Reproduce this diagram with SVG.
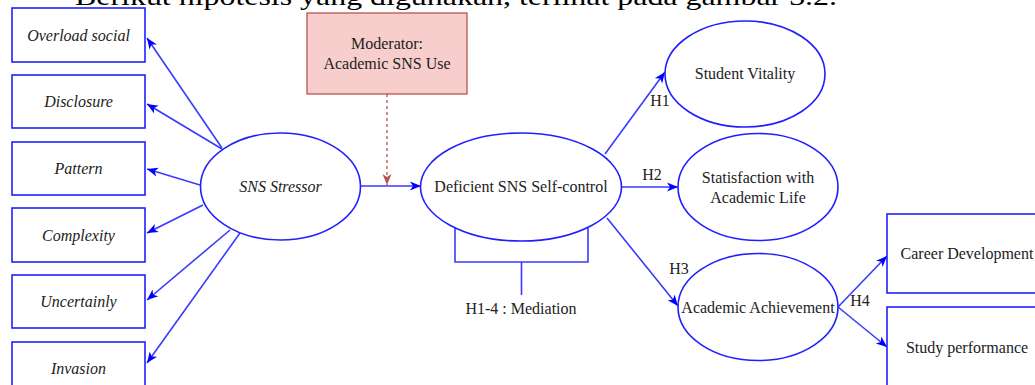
<svg xmlns="http://www.w3.org/2000/svg" width="1035" height="385" viewBox="0 0 1035 385" font-family="'Liberation Serif', 'Times New Roman', serif">
<defs>
<style>
.box{fill:#fff;stroke:#2020ff;stroke-width:1.6}
.ell{fill:#fff;stroke:#2020ff;stroke-width:1.6}
text{font-family:'Liberation Serif','Times New Roman',serif}
.t{font-size:16px;fill:#222;text-anchor:middle;dominant-baseline:central}
.it{font-style:italic}
.edge{fill:none;stroke:#3a3aff;stroke-width:1.6}
.mod{fill:#f8cecc;stroke:#b85450;stroke-width:1.3}
.dash{fill:none;stroke:#b85450;stroke-width:1.3;stroke-dasharray:3 3}
</style>
<marker id="ab" markerUnits="userSpaceOnUse" markerWidth="12" markerHeight="12" viewBox="0 0 12 12" refX="11" refY="6" orient="auto">
<path d="M0,1.5 L11,6 L0,10.5 L3,6 z" fill="#0000ff"/>
</marker>
<marker id="ar" markerUnits="userSpaceOnUse" markerWidth="12" markerHeight="12" viewBox="0 0 12 12" refX="11" refY="6" orient="auto">
<path d="M0,1.5 L11,6 L0,10.5 L3,6 z" fill="#b85450"/>
</marker>
</defs>
<rect width="1035" height="385" fill="#fff"/>
<text x="75" y="5" font-size="26" fill="#000" textLength="762" lengthAdjust="spacingAndGlyphs">Berikut hipotesis yang digunakan, terlihat pada gambar 3.2.</text>

<g id="connectors">
<path class="edge" d="M222,148 L147,38" marker-end="url(#ab)"/>
<path class="edge" d="M222,149 L147,104" marker-end="url(#ab)"/>
<path class="edge" d="M200,185 L147,169" marker-end="url(#ab)"/>
<path class="edge" d="M203,205 L147,233" marker-end="url(#ab)"/>
<path class="edge" d="M230,230 L147,300" marker-end="url(#ab)"/>
<path class="edge" d="M240,233 L147,363" marker-end="url(#ab)"/>
<path class="edge" d="M361,186 L421,186" marker-end="url(#ab)"/>
<path class="dash" d="M387,94 L387,185" marker-end="url(#ar)"/>
<path class="edge" d="M605,154 L665,72" marker-end="url(#ab)"/>
<path class="edge" d="M622,187 L678,187" marker-end="url(#ab)"/>
<path class="edge" d="M607,218 L678,306" marker-end="url(#ab)"/>
<path class="edge" d="M838,307 L887,256" marker-end="url(#ab)"/>
<path class="edge" d="M838,307 L887,347" marker-end="url(#ab)"/>
<path class="edge" d="M455,228 L455,262 L588,262 L588,228 M521.5,262 L521.5,295"/>
<text class="t" x="521" y="308">H1-4 : Mediation</text>
<text class="t" x="660" y="100">H1</text>
<text class="t" x="652" y="174">H2</text>
<text class="t" x="679" y="268">H3</text>
<text class="t" x="860" y="300">H4</text>
</g>

<g id="n-overload"><rect class="box" x="12" y="8" width="133" height="54"/><text class="t it" x="78.5" y="35">Overload social</text></g>
<g id="n-disclosure"><rect class="box" x="12" y="75" width="133" height="53"/><text class="t it" x="78.5" y="101.5">Disclosure</text></g>
<g id="n-pattern"><rect class="box" x="12" y="142" width="133" height="53"/><text class="t it" x="78.5" y="168.5">Pattern</text></g>
<g id="n-complexity"><rect class="box" x="12" y="208" width="133" height="54"/><text class="t it" x="78.5" y="235">Complexity</text></g>
<g id="n-uncertainly"><rect class="box" x="12" y="275" width="133" height="53"/><text class="t it" x="78.5" y="301.5">Uncertainly</text></g>
<g id="n-invasion"><rect class="box" x="12" y="342" width="133" height="54"/><text class="t it" x="78.5" y="368">Invasion</text></g>

<g id="n-stressor"><ellipse class="ell" cx="280.5" cy="186.5" rx="80" ry="53.5"/><text class="t it" x="280.5" y="186.5">SNS Stressor</text></g>
<g id="n-moderator"><rect class="mod" x="307" y="13" width="160" height="81"/><text class="t" x="387" y="43">Moderator:</text><text class="t" x="387" y="63">Academic SNS Use</text></g>
<g id="n-deficient"><ellipse class="ell" cx="521" cy="187" rx="100.5" ry="54"/><text class="t" x="521" y="186">Deficient SNS Self-control</text></g>
<g id="n-vitality"><ellipse class="ell" cx="745" cy="74" rx="80" ry="53"/><text class="t" x="745" y="73">Student Vitality</text></g>
<g id="n-satisfaction"><ellipse class="ell" cx="758" cy="187" rx="80" ry="53.5"/><text class="t" x="758" y="177">Statisfaction with</text><text class="t" x="758" y="197">Academic Life</text></g>
<g id="n-achievement"><ellipse class="ell" cx="758" cy="307" rx="80" ry="53.5"/><text class="t" x="758" y="307">Academic Achievement</text></g>
<g id="n-career"><rect class="box" x="887" y="214" width="160" height="79"/><text class="t" x="967" y="253">Career Development</text></g>
<g id="n-study"><rect class="box" x="887" y="307" width="160" height="90"/><text class="t" x="967" y="347">Study performance</text></g>
</svg>
